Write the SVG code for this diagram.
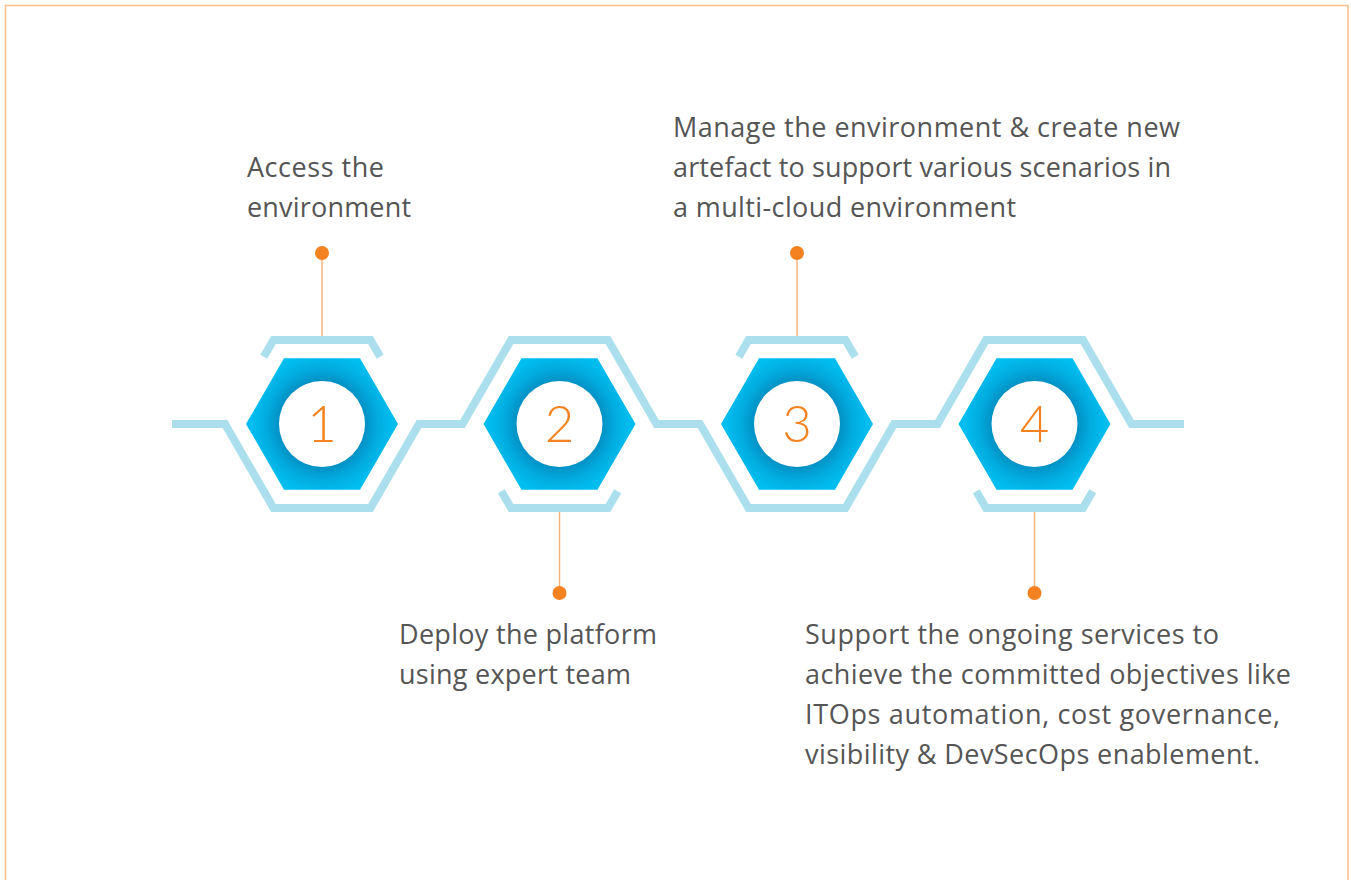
<svg xmlns="http://www.w3.org/2000/svg" width="1351" height="880" viewBox="0 0 1351 880">
<style>
.frame{fill:none;stroke:#fdc08d;stroke-width:1.6}
.wave{fill:none;stroke:#abdfed;stroke-width:8;stroke-linejoin:miter}
.pin{stroke:#f9b47c;stroke-width:1.5}
.dot{fill:#f58220}
.hex{stroke:none}
.disc{fill:#ffffff}
.num{font-family:Lato,"Open Sans",sans-serif;font-weight:300;font-size:51px;fill:#f58220;text-anchor:middle}
.lbl{font-family:"Open Sans",Lato,sans-serif;font-size:27px;fill:#555555}
</style>
<defs>
<radialGradient id="g1" gradientUnits="userSpaceOnUse" cx="322" cy="424" r="76"><stop offset="0.56" stop-color="#0390c4"/><stop offset="0.74" stop-color="#02acdf"/><stop offset="0.92" stop-color="#00bdf0"/></radialGradient>
<radialGradient id="g2" gradientUnits="userSpaceOnUse" cx="559.5" cy="424" r="76"><stop offset="0.56" stop-color="#0390c4"/><stop offset="0.74" stop-color="#02acdf"/><stop offset="0.92" stop-color="#00bdf0"/></radialGradient>
<radialGradient id="g3" gradientUnits="userSpaceOnUse" cx="797" cy="424" r="76"><stop offset="0.56" stop-color="#0390c4"/><stop offset="0.74" stop-color="#02acdf"/><stop offset="0.92" stop-color="#00bdf0"/></radialGradient>
<radialGradient id="g4" gradientUnits="userSpaceOnUse" cx="1034.5" cy="424" r="76"><stop offset="0.56" stop-color="#0390c4"/><stop offset="0.74" stop-color="#02acdf"/><stop offset="0.92" stop-color="#00bdf0"/></radialGradient>
</defs>
<rect class="frame" x="5.5" y="5.5" width="1342.5" height="900"/>
<g id="connectors">
<path class="wave" d="M172 424 L225 424 L273.5 508 L370.5 508 L419 424 L462.5 424 L511 340 L608 340 L656.5 424 L700 424 L748.5 508 L845.5 508 L894 424 L937.5 424 L986 340 L1083 340 L1131.5 424 L1184 424"/>
</g>
<g id="step1">
<path class="wave" d="M263.8 356.8 L273.5 340 L370.5 340 L380.2 356.8"/>
<polygon class="hex" fill="url(#g1)" points="246,424 284,358.2 360,358.2 398,424 360,489.8 284,489.8"/>
<circle class="disc" cx="322" cy="424" r="43"/>
<text class="num" x="322" y="442">1</text>
<line class="pin" x1="322" y1="253" x2="322" y2="336"/>
<circle class="dot" cx="322" cy="253" r="7"/>
<text class="lbl" x="247" y="177" textLength="137">Access the</text>
<text class="lbl" x="247" y="217" textLength="164">environment</text>
</g>
<g id="step2">
<path class="wave" d="M501.3 491.2 L511 508 L608 508 L617.7 491.2"/>
<polygon class="hex" fill="url(#g2)" points="483.5,424 521.5,358.2 597.5,358.2 635.5,424 597.5,489.8 521.5,489.8"/>
<circle class="disc" cx="559.5" cy="424" r="43"/>
<text class="num" x="559.5" y="442">2</text>
<line class="pin" x1="559.5" y1="512" x2="559.5" y2="593"/>
<circle class="dot" cx="559.5" cy="593" r="7"/>
<text class="lbl" x="399" y="644" textLength="258">Deploy the platform</text>
<text class="lbl" x="399" y="684" textLength="232">using expert team</text>
</g>
<g id="step3">
<path class="wave" d="M738.8 356.8 L748.5 340 L845.5 340 L855.2 356.8"/>
<polygon class="hex" fill="url(#g3)" points="721,424 759,358.2 835,358.2 873,424 835,489.8 759,489.8"/>
<circle class="disc" cx="797" cy="424" r="43"/>
<text class="num" x="797" y="442">3</text>
<line class="pin" x1="797" y1="253" x2="797" y2="336"/>
<circle class="dot" cx="797" cy="253" r="7"/>
<text class="lbl" x="673" y="137" textLength="507">Manage the environment &amp; create new</text>
<text class="lbl" x="673" y="177" textLength="498">artefact to support various scenarios in</text>
<text class="lbl" x="673" y="217" textLength="343">a multi-cloud environment</text>
</g>
<g id="step4">
<path class="wave" d="M976.3 491.2 L986 508 L1083 508 L1092.7 491.2"/>
<polygon class="hex" fill="url(#g4)" points="958.5,424 996.5,358.2 1072.5,358.2 1110.5,424 1072.5,489.8 996.5,489.8"/>
<circle class="disc" cx="1034.5" cy="424" r="43"/>
<text class="num" x="1034.5" y="442">4</text>
<line class="pin" x1="1034.5" y1="512" x2="1034.5" y2="593"/>
<circle class="dot" cx="1034.5" cy="593" r="7"/>
<text class="lbl" x="805" y="644" textLength="414">Support the ongoing services to</text>
<text class="lbl" x="805" y="684" textLength="486">achieve the committed objectives like</text>
<text class="lbl" x="805" y="724" textLength="475">ITOps automation, cost governance,</text>
<text class="lbl" x="805" y="764" textLength="455">visibility &amp; DevSecOps enablement.</text>
</g>
</svg>
